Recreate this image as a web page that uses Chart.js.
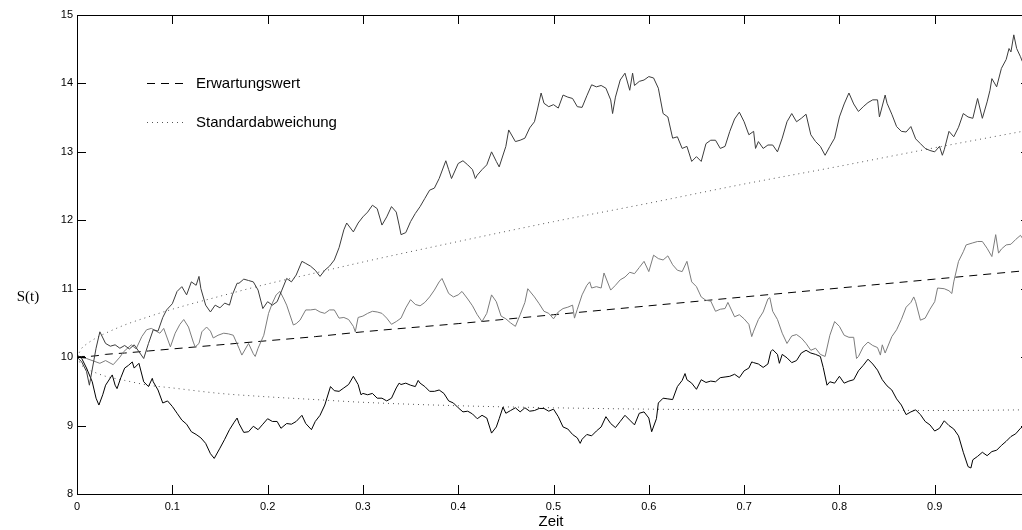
<!DOCTYPE html>
<html>
<head>
<meta charset="utf-8">
<script src="https://cdn.jsdelivr.net/npm/chart.js@4.4.0/dist/chart.umd.min.js"></script>
<style>
  html, body { margin: 0; padding: 0; background: #fff; overflow: hidden; }
  #wrap { width: 1022px; height: 530px; }
</style>
</head>
<body>
<div id="wrap"><canvas id="chart" width="1022" height="530"></canvas></div>
<script>
// three simulated paths S(t) as [t, S]
const pathA = [[0,10.00],[0.005,9.93],[0.01,9.79],[0.013,9.59],[0.02,10.13],[0.024,10.37],[0.03,10.20],[0.035,10.16],[0.04,10.18],[0.045,10.13],[0.05,10.17],[0.055,10.12],[0.06,10.18],[0.065,10.08],[0.07,9.98],[0.075,10.20],[0.08,10.40],[0.085,10.38],[0.09,10.58],[0.094,10.69],[0.1,10.78],[0.105,10.96],[0.11,11.03],[0.115,10.91],[0.12,11.10],[0.125,11.05],[0.128,11.18],[0.13,11.00],[0.135,10.76],[0.14,10.66],[0.145,10.76],[0.15,10.72],[0.155,10.79],[0.16,10.76],[0.163,10.91],[0.168,11.08],[0.17,11.08],[0.175,11.14],[0.18,11.12],[0.185,11.10],[0.19,10.98],[0.195,10.71],[0.2,10.81],[0.205,10.76],[0.21,10.81],[0.215,10.98],[0.22,11.15],[0.225,11.10],[0.23,11.20],[0.236,11.40],[0.24,11.37],[0.245,11.33],[0.25,11.27],[0.255,11.18],[0.26,11.27],[0.265,11.33],[0.27,11.42],[0.275,11.60],[0.28,11.86],[0.283,11.96],[0.29,11.83],[0.295,11.96],[0.3,12.05],[0.305,12.12],[0.31,12.22],[0.315,12.17],[0.32,11.93],[0.325,12.05],[0.33,12.20],[0.335,12.12],[0.338,11.93],[0.34,11.79],[0.345,11.82],[0.35,11.98],[0.355,12.10],[0.36,12.20],[0.365,12.32],[0.37,12.44],[0.375,12.47],[0.38,12.61],[0.387,12.87],[0.39,12.74],[0.393,12.61],[0.4,12.83],[0.405,12.87],[0.41,12.81],[0.415,12.74],[0.418,12.61],[0.42,12.66],[0.425,12.74],[0.43,12.81],[0.435,13.00],[0.44,12.86],[0.443,12.78],[0.45,13.08],[0.453,13.32],[0.46,13.15],[0.465,13.17],[0.47,13.20],[0.475,13.35],[0.48,13.44],[0.483,13.61],[0.487,13.86],[0.49,13.71],[0.495,13.66],[0.5,13.69],[0.505,13.64],[0.51,13.83],[0.515,13.80],[0.52,13.78],[0.525,13.66],[0.53,13.65],[0.535,13.82],[0.54,13.98],[0.545,13.95],[0.55,13.97],[0.555,13.93],[0.56,13.76],[0.562,13.56],[0.565,13.80],[0.57,14.05],[0.575,14.15],[0.58,13.90],[0.583,14.15],[0.585,13.97],[0.59,14.03],[0.595,14.05],[0.6,14.10],[0.605,14.08],[0.61,13.93],[0.615,13.56],[0.62,13.51],[0.625,13.20],[0.63,13.22],[0.635,13.05],[0.64,13.08],[0.645,12.86],[0.65,12.93],[0.655,12.86],[0.66,13.12],[0.665,13.17],[0.67,13.17],[0.675,13.05],[0.68,13.08],[0.685,13.30],[0.69,13.48],[0.695,13.58],[0.7,13.44],[0.705,13.25],[0.71,13.30],[0.712,13.05],[0.715,13.15],[0.72,13.05],[0.725,13.10],[0.73,13.10],[0.735,13.00],[0.74,13.20],[0.745,13.44],[0.75,13.56],[0.755,13.44],[0.76,13.49],[0.765,13.55],[0.77,13.25],[0.775,13.15],[0.78,13.08],[0.785,12.95],[0.79,13.08],[0.795,13.20],[0.8,13.51],[0.805,13.70],[0.81,13.86],[0.815,13.70],[0.82,13.59],[0.825,13.66],[0.83,13.72],[0.835,13.76],[0.84,13.76],[0.842,13.51],[0.848,13.83],[0.85,13.71],[0.855,13.55],[0.86,13.37],[0.865,13.30],[0.87,13.29],[0.875,13.37],[0.88,13.19],[0.885,13.12],[0.89,13.05],[0.895,13.02],[0.9,13.00],[0.905,13.08],[0.908,12.95],[0.91,13.03],[0.915,13.30],[0.92,13.22],[0.925,13.36],[0.93,13.56],[0.935,13.51],[0.94,13.49],[0.945,13.78],[0.95,13.49],[0.955,13.73],[0.958,13.90],[0.96,14.07],[0.965,13.95],[0.97,14.22],[0.975,14.35],[0.978,14.51],[0.98,14.46],[0.983,14.71],[0.986,14.51],[0.99,14.39],[0.992,14.32]];

const pathB = [[0,10.00],[0.01,9.98],[0.02,9.93],[0.024,9.91],[0.03,9.95],[0.038,9.89],[0.045,10.00],[0.049,10.08],[0.057,10.18],[0.062,10.12],[0.068,10.30],[0.073,10.40],[0.078,10.42],[0.083,10.38],[0.087,10.35],[0.091,10.42],[0.098,10.15],[0.103,10.35],[0.108,10.48],[0.112,10.55],[0.117,10.44],[0.122,10.22],[0.124,10.15],[0.128,10.20],[0.131,10.37],[0.136,10.44],[0.14,10.38],[0.143,10.28],[0.148,10.32],[0.154,10.35],[0.159,10.34],[0.164,10.32],[0.17,10.13],[0.173,10.03],[0.18,10.20],[0.185,10.05],[0.187,10.01],[0.19,10.13],[0.196,10.32],[0.201,10.64],[0.205,10.79],[0.209,10.91],[0.213,10.96],[0.217,10.85],[0.22,10.76],[0.227,10.47],[0.23,10.49],[0.234,10.54],[0.24,10.69],[0.245,10.69],[0.25,10.70],[0.255,10.66],[0.26,10.64],[0.265,10.69],[0.27,10.69],[0.275,10.57],[0.28,10.58],[0.285,10.55],[0.29,10.45],[0.292,10.37],[0.295,10.58],[0.3,10.60],[0.305,10.64],[0.31,10.67],[0.315,10.66],[0.32,10.64],[0.325,10.57],[0.33,10.48],[0.335,10.52],[0.34,10.57],[0.345,10.72],[0.35,10.84],[0.355,10.77],[0.36,10.75],[0.365,10.80],[0.37,10.88],[0.375,10.98],[0.38,11.10],[0.383,11.15],[0.39,10.93],[0.395,10.88],[0.4,10.91],[0.404,10.96],[0.41,10.85],[0.415,10.75],[0.42,10.62],[0.425,10.52],[0.43,10.64],[0.435,10.91],[0.44,10.81],[0.445,10.60],[0.45,10.56],[0.455,10.50],[0.46,10.45],[0.465,10.62],[0.47,10.80],[0.473,11.00],[0.48,10.88],[0.485,10.78],[0.49,10.67],[0.495,10.64],[0.5,10.56],[0.505,10.66],[0.51,10.71],[0.515,10.73],[0.52,10.76],[0.522,10.57],[0.525,10.70],[0.53,10.91],[0.535,11.05],[0.538,11.10],[0.54,11.01],[0.545,11.03],[0.55,11.01],[0.553,11.23],[0.56,10.98],[0.565,11.05],[0.57,11.13],[0.575,11.17],[0.58,11.24],[0.585,11.22],[0.59,11.31],[0.595,11.40],[0.6,11.25],[0.605,11.49],[0.61,11.44],[0.615,11.42],[0.62,11.48],[0.625,11.35],[0.63,11.27],[0.635,11.25],[0.64,11.40],[0.645,11.10],[0.65,11.03],[0.655,10.88],[0.66,10.83],[0.665,10.82],[0.67,10.67],[0.675,10.70],[0.68,10.71],[0.683,10.80],[0.69,10.59],[0.695,10.62],[0.7,10.56],[0.705,10.48],[0.708,10.30],[0.71,10.38],[0.715,10.55],[0.72,10.66],[0.725,10.85],[0.727,10.87],[0.73,10.67],[0.735,10.55],[0.74,10.35],[0.745,10.20],[0.75,10.31],[0.755,10.33],[0.76,10.28],[0.765,10.20],[0.77,10.10],[0.775,10.13],[0.78,10.04],[0.785,10.01],[0.79,10.32],[0.795,10.52],[0.8,10.45],[0.805,10.32],[0.81,10.29],[0.815,10.29],[0.818,9.98],[0.82,10.01],[0.825,10.15],[0.83,10.22],[0.835,10.17],[0.84,10.14],[0.843,10.03],[0.845,10.18],[0.848,10.06],[0.855,10.30],[0.86,10.40],[0.865,10.55],[0.87,10.73],[0.875,10.80],[0.878,10.88],[0.88,10.81],[0.885,10.54],[0.89,10.57],[0.895,10.70],[0.9,10.81],[0.903,11.01],[0.91,11.00],[0.915,10.97],[0.918,10.93],[0.92,11.10],[0.925,11.40],[0.93,11.54],[0.933,11.64],[0.94,11.67],[0.945,11.69],[0.95,11.69],[0.955,11.59],[0.96,11.47],[0.964,11.79],[0.967,11.52],[0.97,11.58],[0.975,11.64],[0.98,11.65],[0.985,11.72],[0.99,11.78],[0.992,11.74]];

const pathC = [[0,10.03],[0.005,9.98],[0.01,9.84],[0.016,9.64],[0.02,9.40],[0.023,9.30],[0.027,9.45],[0.03,9.59],[0.037,9.74],[0.04,9.59],[0.042,9.54],[0.046,9.70],[0.05,9.84],[0.054,9.88],[0.058,9.93],[0.06,9.84],[0.065,9.91],[0.07,9.64],[0.075,9.57],[0.079,9.69],[0.08,9.64],[0.085,9.52],[0.09,9.33],[0.095,9.36],[0.1,9.28],[0.105,9.18],[0.11,9.08],[0.115,9.02],[0.12,8.91],[0.125,8.87],[0.13,8.82],[0.135,8.74],[0.14,8.59],[0.144,8.52],[0.15,8.67],[0.155,8.80],[0.16,8.94],[0.165,9.05],[0.168,9.11],[0.17,9.03],[0.175,8.90],[0.18,8.91],[0.185,8.99],[0.19,8.94],[0.195,9.02],[0.2,9.10],[0.205,9.06],[0.21,9.06],[0.214,8.96],[0.22,9.03],[0.225,9.02],[0.23,9.06],[0.236,9.15],[0.24,9.03],[0.246,8.94],[0.25,9.06],[0.255,9.15],[0.26,9.30],[0.266,9.57],[0.27,9.51],[0.275,9.50],[0.28,9.55],[0.285,9.60],[0.29,9.72],[0.295,9.60],[0.298,9.45],[0.3,9.47],[0.305,9.45],[0.31,9.47],[0.315,9.40],[0.32,9.40],[0.325,9.36],[0.33,9.40],[0.335,9.55],[0.338,9.62],[0.34,9.60],[0.345,9.62],[0.35,9.59],[0.355,9.57],[0.358,9.66],[0.36,9.62],[0.365,9.57],[0.37,9.50],[0.375,9.50],[0.38,9.52],[0.385,9.47],[0.39,9.36],[0.395,9.33],[0.4,9.26],[0.405,9.20],[0.41,9.21],[0.415,9.17],[0.42,9.10],[0.425,9.15],[0.43,9.11],[0.435,8.89],[0.44,8.98],[0.443,9.10],[0.447,9.27],[0.45,9.18],[0.455,9.22],[0.46,9.26],[0.465,9.20],[0.47,9.26],[0.475,9.21],[0.48,9.22],[0.485,9.25],[0.49,9.25],[0.495,9.21],[0.5,9.24],[0.505,9.13],[0.51,8.98],[0.515,8.95],[0.52,8.87],[0.525,8.82],[0.528,8.74],[0.53,8.80],[0.535,8.87],[0.54,8.85],[0.545,8.92],[0.55,8.98],[0.555,9.13],[0.56,9.03],[0.565,8.97],[0.57,9.06],[0.575,9.15],[0.58,9.08],[0.585,9.01],[0.59,9.18],[0.595,9.20],[0.6,9.11],[0.603,8.91],[0.608,9.10],[0.61,9.33],[0.615,9.40],[0.62,9.39],[0.625,9.38],[0.63,9.57],[0.635,9.66],[0.638,9.76],[0.64,9.67],[0.645,9.62],[0.65,9.53],[0.655,9.67],[0.66,9.63],[0.665,9.65],[0.67,9.64],[0.675,9.70],[0.68,9.71],[0.685,9.72],[0.69,9.75],[0.695,9.70],[0.7,9.80],[0.705,9.84],[0.708,9.93],[0.71,9.92],[0.715,9.90],[0.72,9.85],[0.725,9.90],[0.728,10.08],[0.73,10.11],[0.735,10.04],[0.737,9.91],[0.74,10.04],[0.745,9.99],[0.75,9.92],[0.755,9.95],[0.76,10.06],[0.765,10.10],[0.77,10.06],[0.775,10.04],[0.78,10.01],[0.783,9.85],[0.787,9.59],[0.79,9.64],[0.795,9.62],[0.8,9.72],[0.805,9.62],[0.81,9.65],[0.815,9.67],[0.82,9.80],[0.825,9.88],[0.83,9.97],[0.835,9.90],[0.84,9.81],[0.845,9.67],[0.85,9.58],[0.855,9.52],[0.86,9.39],[0.865,9.30],[0.87,9.16],[0.875,9.20],[0.88,9.23],[0.885,9.16],[0.89,9.06],[0.895,9.01],[0.9,8.92],[0.905,8.96],[0.91,9.07],[0.915,9.00],[0.92,8.95],[0.925,8.85],[0.93,8.61],[0.935,8.40],[0.938,8.38],[0.94,8.50],[0.945,8.55],[0.95,8.61],[0.955,8.56],[0.96,8.62],[0.965,8.64],[0.97,8.71],[0.975,8.77],[0.98,8.84],[0.985,8.88],[0.99,8.96],[0.992,8.98]];

// smooth curves: expected value and +/- one standard deviation
const curveTimes     = [0, 0.005, 0.01, 0.02, 0.03, 0.05, 0.075, 0.1, 0.15, 0.2, 0.25, 0.3, 0.4, 0.5, 0.6, 0.7, 0.8, 0.9, 1.0];
const expectedValues = [10.00, 10.01, 10.01, 10.02, 10.04, 10.06, 10.09, 10.12, 10.18, 10.24, 10.30, 10.37, 10.49, 10.62, 10.75, 10.88, 11.01, 11.14, 11.27];
const upperValues    = [10.00, 10.13, 10.19, 10.28, 10.35, 10.47, 10.59, 10.70, 10.89, 11.07, 11.23, 11.39, 11.69, 11.98, 12.25, 12.53, 12.79, 13.06, 13.32];
const lowerValues    = [10.00, 9.88, 9.83, 9.77, 9.72, 9.66, 9.59, 9.55, 9.47, 9.42, 9.38, 9.34, 9.29, 9.26, 9.24, 9.23, 9.23, 9.22, 9.23];

// the axes run 0..1, but the picture is cut off just before t = 1
const xTicks = { min: 0, max: 1, visibleMax: 0.9916, step: 0.1 };
const yTicks = { min: 8, max: 15, step: 1 };

const legendLabels = ['Erwartungswert', 'Standardabweichung'];
const xTitle = 'Zeit';
const yTitle = 'S(t)';

const DASH = [8, 6];
const DOT = [1, 4];

const toPoints = arr => arr.map(p => ({ x: p[0], y: p[1] }));
const curve = vals => vals.map((v, i) => ({ x: curveTimes[i], y: v }));

const pathStyle = color => ({
  borderColor: color, borderWidth: 1, pointRadius: 0, tension: 0,
  borderJoinStyle: 'round', fill: false
});

// box with inward ticks, labels, legend
const decorations = {
  id: 'decorations',
  afterDraw(chart) {
    const { ctx, chartArea: a, scales: { x, y } } = chart;
    const right = x.getPixelForValue(xTicks.max);
    ctx.save();
    ctx.strokeStyle = '#000';
    ctx.lineWidth = 1;
    ctx.strokeRect(a.left + 0.5, a.top + 0.5, right - a.left, a.bottom - a.top);

    const tl = 9;
    ctx.beginPath();
    x.ticks.forEach(t => {
      const px = Math.round(x.getPixelForValue(t.value)) + 0.5;
      ctx.moveTo(px, a.top); ctx.lineTo(px, a.top + tl);
      ctx.moveTo(px, a.bottom); ctx.lineTo(px, a.bottom - tl);
    });
    y.ticks.forEach(t => {
      const py = Math.round(y.getPixelForValue(t.value)) + 0.5;
      ctx.moveTo(a.left, py); ctx.lineTo(a.left + tl, py);
      ctx.moveTo(right, py); ctx.lineTo(right - tl, py);
    });
    ctx.stroke();

    // legend inside the plot
    ctx.strokeStyle = '#000';
    ctx.setLineDash(DASH);
    ctx.beginPath(); ctx.moveTo(147, 83.5); ctx.lineTo(184, 83.5); ctx.stroke();
    ctx.strokeStyle = '#555';
    ctx.setLineDash(DOT);
    ctx.beginPath(); ctx.moveTo(147, 122.5); ctx.lineTo(184, 122.5); ctx.stroke();
    ctx.setLineDash([]);

    ctx.fillStyle = '#000';
    ctx.font = '15px "Liberation Sans", Arial, sans-serif';
    ctx.textAlign = 'left';
    ctx.textBaseline = 'middle';
    ctx.fillText(legendLabels[0], 196, 84);
    ctx.fillText(legendLabels[1], 196, 123);

    ctx.textAlign = 'center';
    ctx.fillText(xTitle, 551, 522);

    ctx.font = '15px "Liberation Serif", "Times New Roman", serif';
    ctx.fillText(yTitle, 28, 297);
    ctx.restore();
  }
};

const tickFont = { family: '"Liberation Sans", Arial, sans-serif', size: 11 };

new Chart(document.getElementById('chart'), {
  type: 'line',
  data: {
    datasets: [
      { label: 'Pfad 1', data: toPoints(pathA), ...pathStyle('#3c3c3c') },
      { label: 'Pfad 2', data: toPoints(pathB), ...pathStyle('#7c7c7c') },
      { label: 'Pfad 3', data: toPoints(pathC), ...pathStyle('#000000') },
      { label: legendLabels[0], data: curve(expectedValues), borderColor: '#000', borderWidth: 1,
        borderDash: DASH, pointRadius: 0, cubicInterpolationMode: 'monotone' },
      { label: legendLabels[1], data: curve(upperValues), borderColor: '#555', borderWidth: 1,
        borderDash: DOT, pointRadius: 0, cubicInterpolationMode: 'monotone' },
      { label: legendLabels[1] + ' (unten)', data: curve(lowerValues), borderColor: '#555', borderWidth: 1,
        borderDash: DOT, pointRadius: 0, cubicInterpolationMode: 'monotone' }
    ]
  },
  options: {
    responsive: false,
    animation: false,
    layout: { padding: { left: 0, right: 0, top: 15, bottom: 0 } },
    plugins: { legend: { display: false }, tooltip: { enabled: false } },
    scales: {
      x: {
        type: 'linear', min: xTicks.min, max: xTicks.visibleMax,
        grid: { display: false, drawTicks: false },
        border: { display: false },
        ticks: { stepSize: xTicks.step, includeBounds: false, autoSkip: false, maxRotation: 0,
                 padding: 6, color: '#000', font: tickFont },
        afterFit: s => { s.height = 36; }
      },
      y: {
        min: yTicks.min, max: yTicks.max,
        grid: { display: false, drawTicks: false },
        border: { display: false },
        ticks: { stepSize: yTicks.step, padding: 4, color: '#000', font: tickFont },
        afterFit: s => { s.width = 77; }
      }
    }
  },
  plugins: [decorations]
});
</script>
</body>
</html>
